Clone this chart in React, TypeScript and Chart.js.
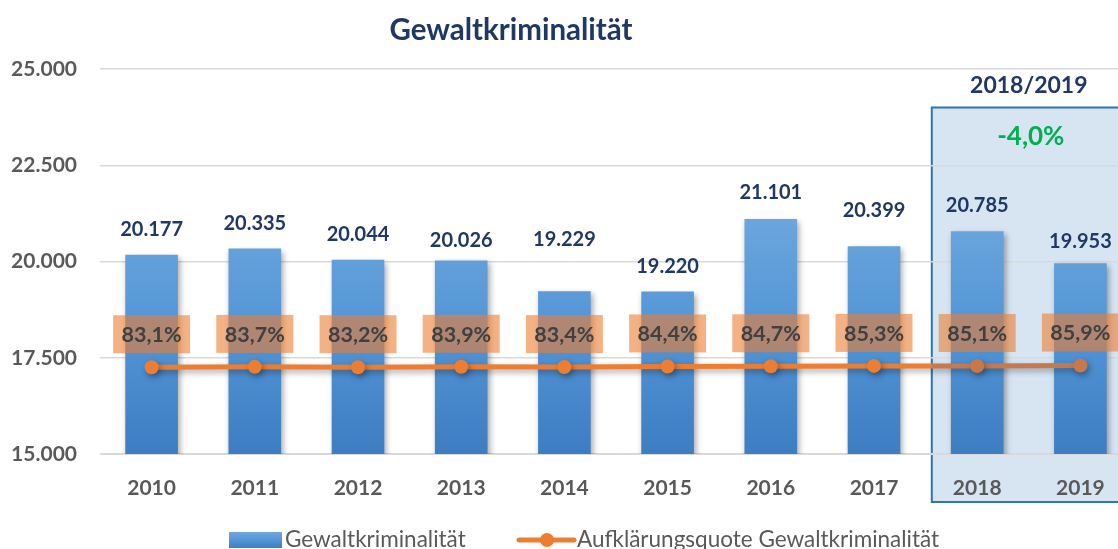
import React, { useEffect, useRef } from "react";
import { Chart, registerables } from "chart.js";

Chart.register(...registerables);

const YEARS = ["2010", "2011", "2012", "2013", "2014", "2015", "2016", "2017", "2018", "2019"];
const CASES = [20177, 20335, 20044, 20026, 19229, 19220, 21101, 20399, 20785, 19953];
const CLEARANCE = [83.1, 83.7, 83.2, 83.9, 83.4, 84.4, 84.7, 85.3, 85.1, 85.9];
const Y_TICKS = [15000, 17500, 20000, 22500, 25000];
const SERIES_BAR = "Gewaltkriminalität";
const SERIES_LINE = "Aufklärungsquote Gewaltkriminalität";
const TITLE = "Gewaltkriminalität";
const COMPARE_LABEL = "2018/2019";
const COMPARE_VALUE = "-4,0%";
const HIGHLIGHT_FROM = 8;

// style: extra lift of value labels (px) as placed in the original
const LABEL_LIFT = [0, 0, 0, -5, 27, 0, 2, 11, 1, -3];

const FONT = "Lato, 'Open Sans', sans-serif";
const NAVY = "#1f3864";
const GRAY = "#595959";
const ORANGE = "#ed7d31";
const ORANGE_DARK = "#c8784a";

const fmtInt = (v: number) => String(Math.round(v)).replace(/\B(?=(\d{3})+(?!\d))/g, ".");
const fmtPct = (v: number) => v.toFixed(1).replace(".", ",") + "%";

function barGradient(c: CanvasRenderingContext2D, top: number, bottom: number) {
  const g = c.createLinearGradient(0, top, 0, bottom);
  g.addColorStop(0, "#70a8de");
  g.addColorStop(0.5, "#5396d6");
  g.addColorStop(1, "#3d7dc2");
  return g;
}

function boxRect(chart: any) {
  const xs = chart.scales.x;
  const ys = chart.scales.y;
  const step = xs.getPixelForValue(1) - xs.getPixelForValue(0);
  const x0 = xs.getPixelForValue(HIGHLIGHT_FROM) - step * 0.44;
  const x1 = xs.getPixelForValue(YEARS.length - 1) + step * 0.7;
  const y0 = ys.getPixelForValue(24000);
  const y1 = chart.chartArea.bottom + 48;
  return { x0, x1, y0, y1 };
}

const overlayPlugin = {
  id: "overlay",
  beforeDraw(chart: any) {
    const c: CanvasRenderingContext2D = chart.ctx;
    const b = boxRect(chart);
    c.save();
    c.fillStyle = "rgba(140,180,220,0.35)";
    c.fillRect(b.x0, b.y0, b.x1 - b.x0, b.y1 - b.y0);
    c.strokeStyle = "#2e75b6";
    c.lineWidth = 2;
    c.strokeRect(b.x0, b.y0, b.x1 - b.x0, b.y1 - b.y0);
    c.restore();
  },
  beforeDatasetDraw(chart: any) {
    const c = chart.ctx;
    c.save();
    c.shadowColor = "rgba(0,0,0,0.35)";
    c.shadowBlur = 6;
    c.shadowOffsetX = 2;
    c.shadowOffsetY = 3;
  },
  afterDatasetDraw(chart: any) {
    chart.ctx.restore();
  },
  afterDatasetsDraw(chart: any) {
    const c: CanvasRenderingContext2D = chart.ctx;
    const ys = chart.scales.y;
    const barMeta = chart.getDatasetMeta(0);
    const lineMeta = chart.getDatasetMeta(1);
    const b = boxRect(chart);

    c.save();
    c.textAlign = "center";
    c.textBaseline = "middle";
    c.font = `bold 20px ${FONT}`;
    c.fillStyle = NAVY;
    barMeta.data.forEach((el: any, i: number) => {
      c.fillText(fmtInt(CASES[i]), el.x, el.y - 25 - LABEL_LIFT[i]);
    });
    c.font = `bold 21.5px ${FONT}`;
    lineMeta.data.forEach((el: any, i: number) => {
      const cy = el.y - 33;
      c.fillStyle = "rgba(237,125,49,0.6)";
      c.fillRect(el.x - 38.5, cy - 19, 77, 38);
      c.fillStyle = "#404040";
      c.fillText(fmtPct(CLEARANCE[i]), el.x, cy + 1);
    });
    const cx = b.x0 + 97;
    c.font = `bold 23px ${FONT}`;
    c.fillStyle = NAVY;
    c.fillText(COMPARE_LABEL, cx, 86);
    c.font = `bold 26px ${FONT}`;
    c.fillStyle = "#00b050";
    c.fillText(COMPARE_VALUE, cx + 2, (b.y0 + ys.getPixelForValue(22500)) / 2);
    c.restore();
  },
  afterDraw(chart: any) {
    const c: CanvasRenderingContext2D = chart.ctx;
    c.save();
    c.font = `bold 29.5px ${FONT}`;
    c.fillStyle = NAVY;
    c.textAlign = "center";
    c.textBaseline = "middle";
    c.fillText(TITLE, 511, 30);
    const ly = 540;
    c.fillStyle = barGradient(c, 532, 548);
    c.fillRect(229, 532, 53, 16);
    c.font = `22.5px ${FONT}`;
    c.fillStyle = GRAY;
    c.textAlign = "left";
    c.fillText(SERIES_BAR, 285, ly);
    c.strokeStyle = ORANGE;
    c.lineWidth = 5;
    c.lineCap = "round";
    c.beginPath();
    c.moveTo(519, ly);
    c.lineTo(574, ly);
    c.stroke();
    c.fillStyle = ORANGE;
    c.beginPath();
    c.arc(547, ly, 7, 0, Math.PI * 2);
    c.fill();
    c.fillStyle = GRAY;
    c.fillText(SERIES_LINE, 577, ly);
    c.restore();
  },
};

export default function App() {
  const ref = useRef<HTMLCanvasElement | null>(null);
  useEffect(() => {
    document.body.style.margin = "0";
    const canvas = ref.current!;
    const lineColor = (ctx: any) => {
      const chart = ctx.chart;
      if (!chart.chartArea || !chart.scales.x) return ORANGE;
      const b = boxRect(chart);
      const w = chart.width;
      const g = chart.ctx.createLinearGradient(0, 0, w, 0);
      const s = Math.min(Math.max(b.x0 / w, 0), 1);
      g.addColorStop(0, ORANGE);
      g.addColorStop(s, ORANGE);
      g.addColorStop(s, ORANGE_DARK);
      g.addColorStop(1, ORANGE_DARK);
      return g;
    };
    const chart = new Chart(canvas, {
      type: "bar",
      data: {
        labels: YEARS,
        datasets: [
          {
            type: "bar",
            label: SERIES_BAR,
            data: CASES,
            yAxisID: "y",
            order: 2,
            backgroundColor: (ctx: any) => {
              const ca = ctx.chart.chartArea;
              if (!ca) return "#5b9bd5";
              return barGradient(ctx.chart.ctx, ca.top + 130, ca.bottom);
            },
            borderWidth: 0,
            barPercentage: 0.51,
            categoryPercentage: 1,
          },
          {
            type: "line",
            label: SERIES_LINE,
            data: CLEARANCE,
            yAxisID: "y1",
            order: 1,
            borderColor: lineColor,
            backgroundColor: ORANGE,
            borderWidth: 5,
            pointRadius: 7,
            pointBorderWidth: 0,
            pointBackgroundColor: (ctx: any) => (ctx.dataIndex >= HIGHLIGHT_FROM ? ORANGE_DARK : ORANGE),
            tension: 0,
            fill: false,
          },
        ],
      } as any,
      options: {
        responsive: false,
        animation: false,
        layout: { padding: { top: 69, left: 0, right: 0, bottom: 0 } },
        plugins: {
          legend: { display: false },
          title: { display: false },
          tooltip: { enabled: false },
        },
        scales: {
          x: {
            grid: { display: false, drawTicks: false },
            border: { display: true, color: "#d9d9d9", width: 1 },
            ticks: {
              padding: 22,
              color: GRAY,
              font: { family: FONT, size: 21, weight: "bold" },
              maxRotation: 0,
            },
            afterFit: (s: any) => {
              s.height = 95;
              s.paddingLeft = 0;
              s.paddingRight = 0;
            },
          },
          y: {
            min: Y_TICKS[0],
            max: Y_TICKS[Y_TICKS.length - 1],
            afterBuildTicks: (s: any) => {
              s.ticks = Y_TICKS.map((v) => ({ value: v }));
            },
            grid: { color: "#d9d9d9", lineWidth: 1.5, drawTicks: false },
            border: { display: false },
            ticks: {
              padding: 23,
              color: GRAY,
              font: { family: FONT, size: 21, weight: "bold" },
              callback: (v: any) => fmtInt(Number(v)),
            },
            afterFit: (s: any) => {
              s.width = 100;
              s.paddingTop = 0;
              s.paddingBottom = 0;
            },
          },
          y1: {
            display: false,
            min: -60,
            max: 575,
            position: "right",
          },
        },
      } as any,
      plugins: [overlayPlugin],
    });
    return () => chart.destroy();
  }, []);
  return (
    <div style={{ width: 1118, height: 549, overflow: "hidden", background: "#fff" }}>
      <canvas ref={ref} width={1139} height={549} style={{ display: "block" }} />
    </div>
  );
}
